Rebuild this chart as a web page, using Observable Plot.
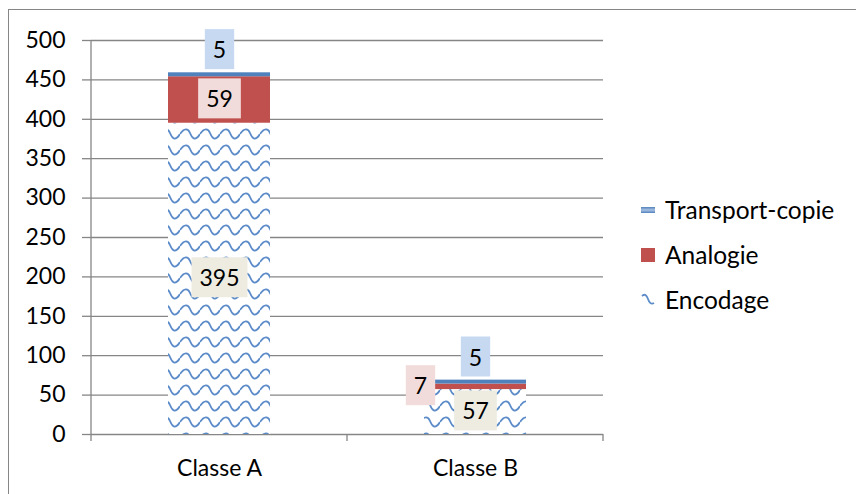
<!DOCTYPE html>
<html><head><meta charset="utf-8">
<script src="https://cdn.jsdelivr.net/npm/d3@7"></script>
<script src="https://cdn.jsdelivr.net/npm/@observablehq/plot@0.6"></script>
<style>
html,body{margin:0;padding:0;background:#fff;}
#wrap{position:relative;width:856px;height:494px;overflow:hidden;font-family:Lato,sans-serif;color:#000;}
#frame{position:absolute;left:8px;top:9px;width:900px;height:600px;border:1.5px solid #868686;box-sizing:border-box;}
#chart{position:absolute;left:0;top:0;}
#legend{position:absolute;left:641px;top:187px;font-size:24.5px;}
.item{display:flex;align-items:center;height:45px;}
.sw{width:14px;height:14px;margin-right:10px;flex:none;}
</style></head><body>
<div id="wrap"><div id="frame"></div><div id="chart"></div><div id="legend"></div></div>
<script>
const categories = ["Classe A", "Classe B"];
const series = ["Encodage", "Analogie", "Transport-copie"];
const encodage = [395, 57];
const analogie = [59, 7];
const transport = [5, 5];
const yTicks = [0, 50, 100, 150, 200, 250, 300, 350, 400, 450, 500];
const fills = ["url(#enc)", "#c0504d", "#4f81bd"];
const boxFills = ["#eeece1", "#f2dcdb", "#c6d9f1"];
const blue = "#4f81bd";
const waveBlue = "#5b8bc8";

const values = [encodage, analogie, transport];
const table = [];
series.forEach((s, j) => categories.forEach((c, i) => table.push({classe: c, serie: s, value: values[j][i]})));

const encLab = categories.map((c, i) => ({classe: c, y: encodage[i] / 2, t: String(encodage[i])}));
const anaLab = categories.map((c, i) => ({classe: c, y: encodage[i] + analogie[i] / 2, t: String(analogie[i])}));
const traLab = categories.map((c, i) => ({classe: c, y: encodage[i] + analogie[i] + transport[i], t: String(transport[i])}));

const W = 620, H = 494, ML = 91, MR = 17, MT = 40, MB = 60;
const chart = Plot.plot({
  width: W, height: H,
  marginLeft: ML, marginRight: MR, marginTop: MT, marginBottom: MB,
  style: {fontFamily: "Lato, sans-serif", fontSize: "23px", color: "#000", background: "transparent"},
  x: {type: "band", domain: categories, paddingInner: 0.6, paddingOuter: 0.3, label: null},
  y: {domain: [0, 500], label: null},
  color: {type: "ordinal", domain: series, range: fills},
  marks: [
    Plot.gridY(yTicks, {stroke: "#868686", strokeOpacity: 1, strokeWidth: 1.3}),
    Plot.axisY(yTicks, {tickSize: 9, tickPadding: 17, stroke: "#868686", strokeWidth: 1.3, fill: "#000", fontSize: 23, label: null}),
    Plot.axisX({tickSize: 0, tickPadding: 25, fill: "#000", fontSize: 23, label: null}),
    Plot.barY(table, Plot.stackY({x: "classe", y: "value", fill: "serie"})),
    Plot.text(encLab, {x: "classe", y: "y", text: "t", fill: "#000", fontSize: 23, ariaDescription: "lab-0"}),
    Plot.text(anaLab.filter(d => d.classe === "Classe A"), {x: "classe", y: "y", text: "t", fill: "#000", fontSize: 23, ariaDescription: "lab-1"}),
    Plot.text(anaLab.filter(d => d.classe === "Classe B"), {x: "classe", y: "y", text: "t", dx: -55, fill: "#000", fontSize: 23, ariaDescription: "lab-1"}),
    Plot.text(traLab, {x: "classe", y: "y", text: "t", dy: -22, fill: "#000", fontSize: 23, ariaDescription: "lab-2"})
  ]
});
document.getElementById("chart").appendChild(chart);

const NS = "http://www.w3.org/2000/svg";
const svg = d3.select(chart);
const defs = svg.append("defs");
const p = defs.append("pattern")
  .attr("id", "enc").attr("patternUnits", "userSpaceOnUse")
  .attr("width", 20).attr("height", 16);
p.append("rect").attr("width", 20).attr("height", 16).attr("fill", "#fff");
p.append("path").attr("d", "M0 6 C4 0 8 0 10 5 C12 10 15 14 20 6")
  .attr("fill", "none").attr("stroke", waveBlue).attr("stroke-width", 1.8);

// label boxes behind the data labels
[["lab-0", boxFills[0]], ["lab-1", boxFills[1]], ["lab-2", boxFills[2]]].forEach(([lab, col]) => {
  svg.selectAll(`[aria-description="${lab}"]`).each(function () {
    const texts = this.tagName.toLowerCase() === "text" ? [this] : Array.from(this.querySelectorAll("text"));
    texts.forEach(t => {
      const b = t.getBBox();
      const r = document.createElementNS(NS, "rect");
      r.setAttribute("x", b.x - 8); r.setAttribute("y", b.y - 6);
      r.setAttribute("width", b.width + 16); r.setAttribute("height", b.height + 12);
      r.setAttribute("fill", col);
      const tr = t.getAttribute("transform"); if (tr) r.setAttribute("transform", tr);
      t.parentNode.insertBefore(r, t);
    });
  });
});

// axis line & category boundary ticks
const xs = chart.scale("x"), ys = chart.scale("y");
const y0 = ys.apply(0), yTop = ys.apply(500);
const g = svg.append("g").attr("stroke", "#868686").attr("stroke-width", 1.3);
g.append("line").attr("x1", ML).attr("x2", ML).attr("y1", yTop).attr("y2", y0);
const bounds = categories.map(c => xs.apply(c) + xs.bandwidth / 2 - xs.step / 2);
bounds.push(bounds[bounds.length - 1] + xs.step);
bounds.forEach(b => g.append("line").attr("x1", b).attr("x2", b).attr("y1", y0).attr("y2", y0 + 7));

// legend
const leg = d3.select("#legend");
[2, 1, 0].forEach(j => {
  const it = leg.append("div").attr("class", "item");
  if (j === 2) {
    it.append("div").attr("class", "sw").style("height", "6px")
      .style("background", `linear-gradient(${blue}, #a9c1e3 50%, ${blue})`);
  } else if (j === 1) {
    it.append("div").attr("class", "sw").style("background", fills[1]);
  } else {
    const s = it.append("svg").attr("class", "sw").attr("width", 14).attr("height", 14);
    s.append("path").attr("d", "M1 3 C4 0 6 3 7 6 C8 9 10 12 13 10").attr("fill", "none")
      .attr("stroke", waveBlue).attr("stroke-width", 1.8);
  }
  it.append("span").text(series[j]);
});
</script>
</body></html>
